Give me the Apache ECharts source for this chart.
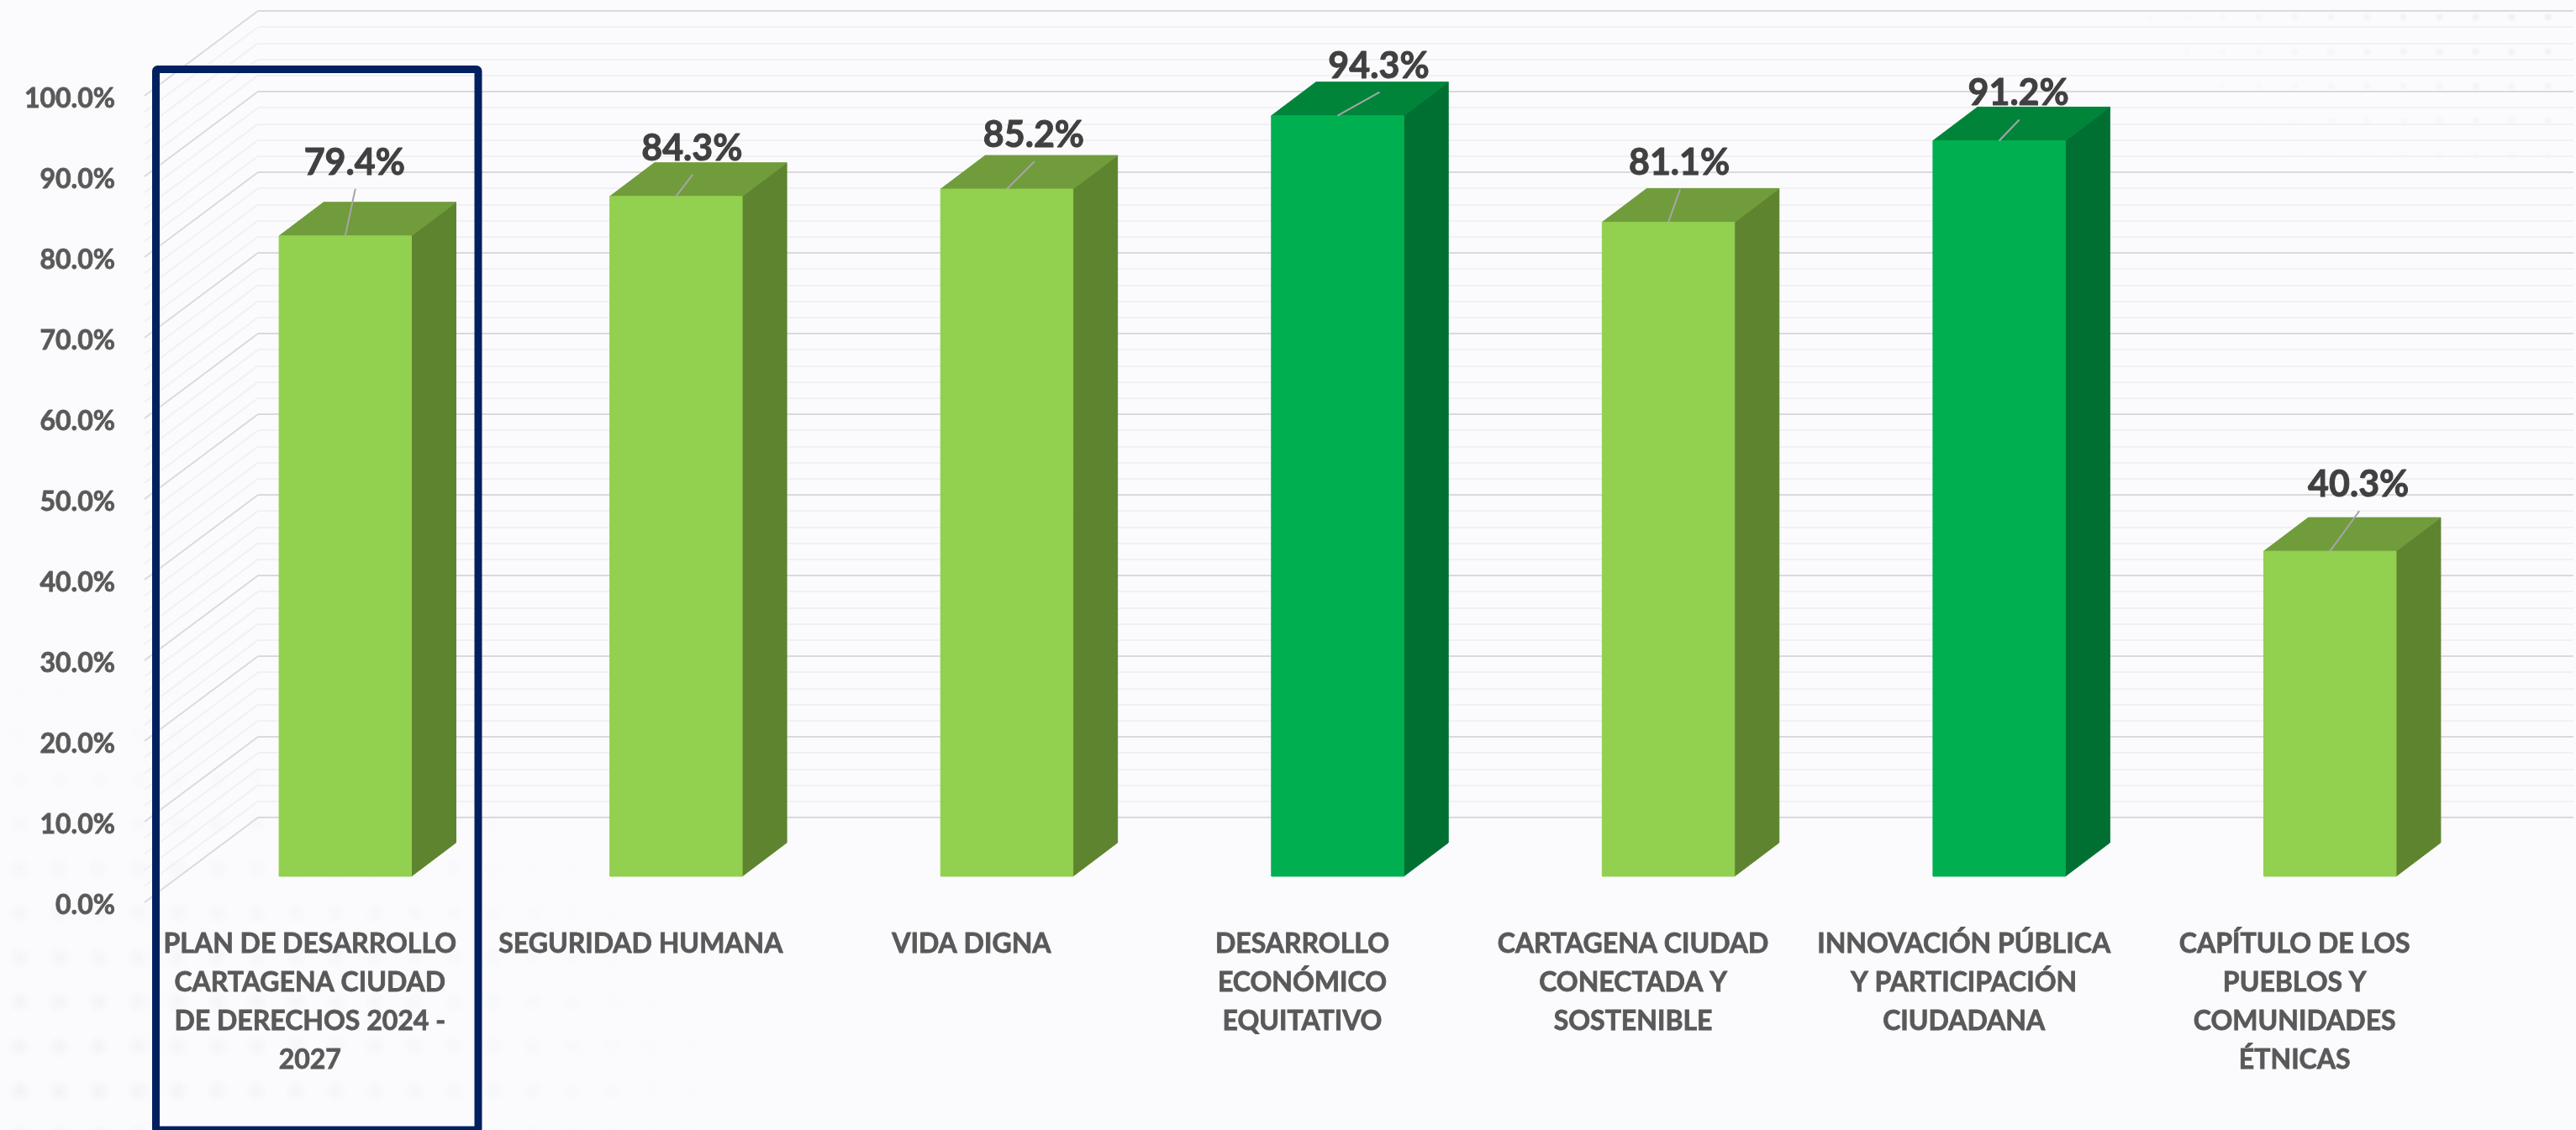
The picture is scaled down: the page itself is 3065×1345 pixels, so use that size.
<!DOCTYPE html>
<html>
<head>
<meta charset="utf-8">
<script src="https://cdn.jsdelivr.net/npm/echarts@6/dist/echarts.min.js"></script>
<style>
html,body{margin:0;padding:0;background:#FBFBFE;}
#wrap{position:relative;width:3065px;height:1345px;overflow:hidden;background:#FBFBFE;}
.dots{position:absolute;inset:0;}
#dotsA{background-image:radial-gradient(circle,#eeeff3 0,rgba(238,239,243,0) 14px);background-size:47px 53px;
-webkit-mask-image:radial-gradient(ellipse 900px 560px at 0 100%,rgba(0,0,0,.8),rgba(0,0,0,0));mask-image:radial-gradient(ellipse 900px 560px at 0 100%,rgba(0,0,0,.8),rgba(0,0,0,0));}
#dotsB{background-image:radial-gradient(circle,#e6e6eb 0,rgba(230,230,235,0) 6px);background-size:43px 41px;
-webkit-mask-image:radial-gradient(ellipse 560px 230px at 100% 0,rgba(0,0,0,.8),rgba(0,0,0,0));mask-image:radial-gradient(ellipse 560px 230px at 100% 0,rgba(0,0,0,.8),rgba(0,0,0,0));}
#main{position:absolute;left:0;top:0;width:3065px;height:1345px;}
</style>
</head>
<body>
<div id="wrap"><div class="dots" id="dotsA"></div><div class="dots" id="dotsB"></div><div id="main"></div></div>
<script>
var categories = [
  'PLAN DE DESARROLLO\nCARTAGENA CIUDAD\nDE DERECHOS 2024 -\n2027',
  'SEGURIDAD HUMANA',
  'VIDA DIGNA',
  'DESARROLLO\nECONÓMICO\nEQUITATIVO',
  'CARTAGENA CIUDAD\nCONECTADA Y\nSOSTENIBLE',
  'INNOVACIÓN PÚBLICA\nY PARTICIPACIÓN\nCIUDADANA',
  'CAPÍTULO DE LOS\nPUEBLOS Y\nCOMUNIDADES\nÉTNICAS'
];
var values = [79.4, 84.3, 85.2, 94.3, 81.1, 91.2, 40.3];
var highlighted = [0, 0, 0, 1, 0, 1, 0];
var gridTicks = [0,2,4,6,8,10,12,14,16,18,20,22,24,26,28,30,32,34,36,38,40,42,44,46,48,50,
                 52,54,56,58,60,62,64,66,68,70,72,74,76,78,80,82,84,86,88,90,92,94,96,98,100];

// drawing constants (layout only)
var labelDx = [11, 19, 32, 49, 13, 23, 34];
var labelDy = [-87, -57, -64, -59, -70, -56, -79];
var wallDx = 135, wallDy = -101;
var barShiftX = 42, barShiftY = -31, depthX = 53, depthY = -40;
var palettes = [
  {front:'#92D050', top:'#709C3C', side:'#5E8430'},
  {front:'#00B050', top:'#00843A', side:'#007032'}
];

var chart = echarts.init(document.getElementById('main'), null, {renderer:'canvas', width:3065, height:1345});

function renderWall(params, api){
  var v = api.value(1);
  var y = api.coord([0, v])[1];
  var x = params.coordSys.x;
  var major = v % 10 === 0;
  return {type:'line', silent:true,
    shape:{x1:x, y1:y, x2:x + wallDx, y2:y + wallDy},
    style:{stroke: major ? '#dadadc' : '#f1f1f3', lineWidth:2}};
}

function renderBar(params, api){
  var i = api.value(0), v = api.value(1);
  var pal = palettes[api.value(2)];
  var w = api.size([1, 0])[0] * 0.4;
  var top = api.coord([i, v]), base = api.coord([i, 0]);
  var cx = top[0] + barShiftX;
  var x0 = cx - w / 2, x1 = cx + w / 2;
  var yt = top[1] + barShiftY, yb = base[1] + barShiftY;
  function poly(points, fill){
    return {type:'polygon', shape:{points:points}, style:{fill:fill, stroke:fill, lineWidth:1}};
  }
  var lx = cx + labelDx[i], ly = yt + labelDy[i];
  return {type:'group', children:[
    poly([[x1,yb],[x1+depthX,yb+depthY],[x1+depthX,yt+depthY],[x1,yt]], pal.side),
    poly([[x0,yt],[x0+depthX,yt+depthY],[x1+depthX,yt+depthY],[x1,yt]], pal.top),
    poly([[x0,yb],[x1,yb],[x1,yt],[x0,yt]], pal.front),
    {type:'line', shape:{x1:cx, y1:yt, x2:lx + 1, y2:ly + 31},
      style:{stroke:'#a6a6a6', lineWidth:2}},
    {type:'text', style:{x:lx, y:ly, text:v.toFixed(1) + '%', fill:'#404040',
      font:'bold 43px Lato', align:'center', verticalAlign:'middle',
      stroke:'#404040', lineWidth:1}}
  ]};
}

var option = {
  backgroundColor:'transparent',
  animation:false,
  grid:[
    {left:172, width:2755, top:114, height:960, containLabel:false},
    {left:307, width:2755, top:13, height:960, containLabel:false},
    {left:172, width:2755, top:118, height:960, containLabel:false}
  ],
  xAxis:[
    {type:'category', gridIndex:0, data:categories, boundaryGap:true,
      axisLine:{show:false}, axisTick:{show:false}, splitLine:{show:false},
      axisLabel:{show:true, interval:0, color:'#595959', fontFamily:'Lato', fontWeight:'bold',
        fontSize:32, lineHeight:46, margin:27, align:'center', verticalAlign:'top', hideOverlap:false,
        textBorderColor:'#595959', textBorderWidth:0.8}},
    {type:'category', gridIndex:1, data:categories, show:false},
    {type:'category', gridIndex:2, data:categories, show:false}
  ],
  yAxis:[
    {type:'value', gridIndex:0, min:0, max:100, interval:10,
      axisLine:{show:false}, axisTick:{show:false}, splitLine:{show:false}, axisLabel:{show:false}},
    {type:'value', gridIndex:1, min:0, max:100, interval:10, position:'left',
      axisLine:{show:false}, axisTick:{show:false}, axisLabel:{show:false},
      splitLine:{show:true, lineStyle:{color:'#dadadc', width:2}},
      minorTick:{show:false, splitNumber:5},
      minorSplitLine:{show:true, lineStyle:{color:'#f1f1f3', width:2}}},
    {type:'value', gridIndex:2, min:0, max:100, interval:10,
      axisLine:{show:false}, axisTick:{show:false}, splitLine:{show:false},
      axisLabel:{color:'#595959', fontFamily:'Lato', fontWeight:'bold', fontSize:32, margin:35,
        textBorderColor:'#595959', textBorderWidth:0.8,
        formatter:function(v){return v.toFixed(1) + '%';}}}
  ],
  series:[
    {type:'custom', name:'wall', xAxisIndex:0, yAxisIndex:0, clip:false, silent:true, z:1,
      data:gridTicks.map(function(t){return [0, t];}), renderItem:renderWall, encode:{x:0, y:1}},
    {type:'custom', name:'Avance', xAxisIndex:0, yAxisIndex:0, clip:false, z:5,
      data:values.map(function(v, i){return [i, v, highlighted[i]];}), renderItem:renderBar, encode:{x:0, y:1}}
  ],
  graphic:[
    {type:'rect', z:100, silent:true,
      shape:{x:185.5, y:82.5, width:383.5, height:1262.5, r:2},
      style:{fill:'transparent', stroke:'#002060', lineWidth:9, lineJoin:'round'}}
  ]
};
chart.setOption(option);
</script>
</body>
</html>
